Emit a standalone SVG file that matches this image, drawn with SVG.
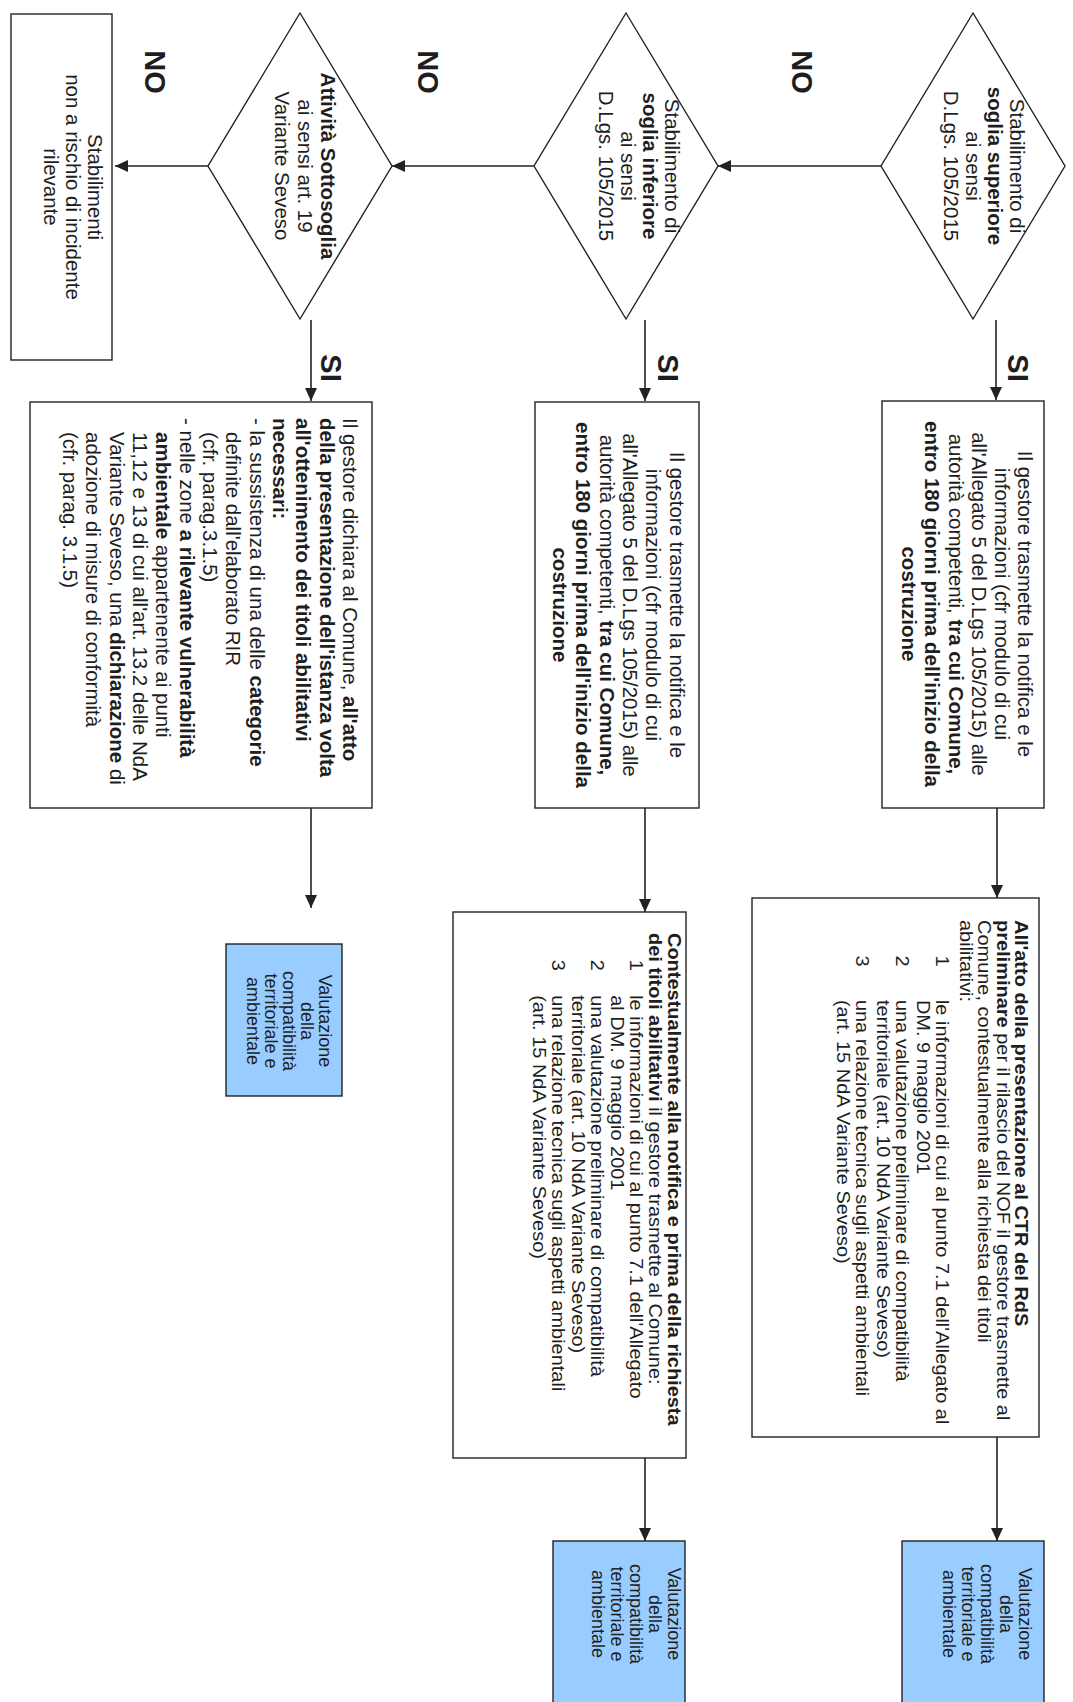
<svg xmlns="http://www.w3.org/2000/svg" width="1073" height="1702" viewBox="0 0 1073 1702">
<defs>
<style>
.t{font-family:"Liberation Sans",Arial,Helvetica,sans-serif;font-size:20.5px;fill:#1e1e1e}
.s18{font-size:18px}
.c{text-anchor:middle}
.b{font-weight:bold}
.shape{fill:#fff;stroke:#222;stroke-width:1.4}
.blue{fill:#99ccff;stroke:#222;stroke-width:1.4}
.conn line{stroke:#222;stroke-width:1.6;marker-end:url(#arr)}
.lbl{font-family:"Liberation Sans",Arial,Helvetica,sans-serif;font-size:29px;font-weight:bold;fill:#1e1e1e;text-anchor:middle}
</style>
<marker id="arr" markerUnits="userSpaceOnUse" markerWidth="14" markerHeight="12" refX="13" refY="6" orient="auto"><path d="M0,0 L13,6 L0,12 z" fill="#222"/></marker>
</defs>
<rect width="1073" height="1702" fill="#fff"/>
<g transform="translate(1073,0) rotate(90)">

<g id="conn" class="conn">
<line x1="320" y1="77" x2="400" y2="77"/>
<line x1="320" y1="428" x2="401" y2="428"/>
<line x1="320" y1="762" x2="401" y2="762"/>
<line x1="166" y1="192" x2="166" y2="355"/>
<line x1="166" y1="539" x2="166" y2="681"/>
<line x1="166" y1="865" x2="166" y2="958"/>
<line x1="808" y1="76" x2="898" y2="76"/>
<line x1="808" y1="428" x2="912" y2="428"/>
<line x1="808" y1="762" x2="908" y2="762"/>
<line x1="1437" y1="76" x2="1541" y2="76"/>
<line x1="1458" y1="428" x2="1541" y2="428"/>
</g>

<g id="labels">
<text class="lbl" x="72" y="281">NO</text>
<text class="lbl" x="72" y="655">NO</text>
<text class="lbl" x="72" y="928">NO</text>
<text class="lbl" x="368" y="65">SI</text>
<text class="lbl" x="368" y="415">SI</text>
<text class="lbl" x="368" y="752">SI</text>
</g>

<g id="d1">
<polygon class="shape" points="13,100 166,8 319,100 166,192"/>
<text class="t c"><tspan x="166" y="63">Stabilimento di</tspan><tspan x="166" y="85" class="b">soglia superiore</tspan><tspan x="166" y="107">ai sensi</tspan><tspan x="166" y="129">D.Lgs. 105/2015</tspan></text>
</g>

<g id="d2">
<polygon class="shape" points="13,447 166,355 319,447 166,539"/>
<text class="t c"><tspan x="166" y="408">Stabilimento di</tspan><tspan x="166" y="430" class="b">soglia inferiore</tspan><tspan x="166" y="452">ai sensi</tspan><tspan x="166" y="474">D.Lgs. 105/2015</tspan></text>
</g>

<g id="d3">
<polygon class="shape" points="13,773 166,681 319,773 166,865"/>
<text class="t c"><tspan x="166" y="752" class="b">Attività Sottosoglia</tspan><tspan x="166" y="775">ai sensi art. 19</tspan><tspan x="166" y="798">Variante Seveso</tspan></text>
</g>

<g id="nr">
<rect class="shape" x="14" y="961" width="346" height="101"/>
<text class="t c"><tspan x="187" y="985">Stabilimenti</tspan><tspan x="187" y="1007">non a rischio di incidente</tspan><tspan x="187" y="1029">rilevante</tspan></text>
</g>

<g id="b1">
<rect class="shape" x="401" y="29" width="407" height="162"/>
<text class="t c"><tspan x="604" y="55">Il gestore trasmette la notifica e le</tspan><tspan x="604" y="78">informazioni (cfr modulo di cui</tspan><tspan x="604" y="101">all'Allegato 5 del D.Lgs 105/2015) alle</tspan><tspan x="604" y="124">autorità competenti, <tspan class="b">tra cui Comune,</tspan></tspan><tspan x="604" y="148" class="b">entro 180 giorni prima dell'inizio della</tspan><tspan x="604" y="171" class="b">costruzione</tspan></text>
</g>

<g id="b2">
<rect class="shape" x="402" y="374" width="406" height="164"/>
<text class="t c"><tspan x="605" y="403">Il gestore trasmette la notifica e le</tspan><tspan x="605" y="427">informazioni (cfr modulo di cui</tspan><tspan x="605" y="450">all'Allegato 5 del D.Lgs 105/2015)  alle</tspan><tspan x="605" y="473">autorità competenti, <tspan class="b">tra cui Comune,</tspan></tspan><tspan x="605" y="497" class="b">entro 180 giorni prima dell'inizio della</tspan><tspan x="605" y="520" class="b">costruzione</tspan></text>
</g>

<g id="b3">
<rect class="shape" x="402" y="701" width="406" height="342"/>
<text class="t"><tspan x="418" y="730">Il gestore dichiara al Comune, <tspan class="b">all'atto</tspan></tspan><tspan x="418" y="753" class="b">della presentazione dell'istanza volta</tspan><tspan x="418" y="777" class="b">all'ottenimento dei titoli abilitativi</tspan><tspan x="418" y="800" class="b">necessari:</tspan><tspan x="418" y="823">- la sussistenza di una delle <tspan class="b">categorie</tspan></tspan><tspan x="432" y="847">definite dall'elaborato RIR</tspan><tspan x="432" y="870">(cfr. parag.3.1.5)</tspan><tspan x="418" y="893">- nelle zone <tspan class="b">a rilevante vulnerabilità</tspan></tspan><tspan x="432" y="917"><tspan class="b">ambientale</tspan> appartenente ai punti</tspan><tspan x="432" y="940">11,12 e 13 di cui all'art. 13.2 delle NdA</tspan><tspan x="432" y="963">Variante Seveso, una <tspan class="b">dichiarazione</tspan> di</tspan><tspan x="432" y="987">adozione di misure di conformità</tspan><tspan x="432" y="1010">(cfr. parag. 3.1.5)</tspan></text>
</g>

<g id="c1">
<rect class="shape" x="898" y="34" width="539" height="287"/>
<text class="t s18" transform="translate(920,0) scale(1.11,1)"><tspan x="0" y="58" class="b">All'atto della presentazione al CTR del RdS</tspan><tspan x="0" y="76"><tspan class="b">preliminare</tspan> per il rilascio del NOF il gestore trasmette al</tspan><tspan x="0" y="95">Comune,  contestualmente alla richiesta dei titoli</tspan><tspan x="0" y="113">abilitativi:</tspan><tspan x="32" y="137">1</tspan><tspan x="72" y="137">le informazioni di cui al punto 7.1 dell'Allegato al</tspan><tspan x="72" y="156">DM. 9 maggio 2001</tspan><tspan x="32" y="177">2</tspan><tspan x="72" y="177">una valutazione preliminare di compatibilità</tspan><tspan x="72" y="196">territoriale (art. 10 NdA Variante Seveso)</tspan><tspan x="32" y="217">3</tspan><tspan x="72" y="217">una relazione tecnica sugli aspetti ambientali</tspan><tspan x="72" y="236">(art. 15 NdA Variante Seveso)</tspan></text>
</g>

<g id="c2">
<rect class="shape" x="912" y="387" width="546" height="233"/>
<text class="t s18" transform="translate(933,0) scale(1.11,1)"><tspan x="0" y="405" class="b">Contestualmente alla notifica e prima della richiesta</tspan><tspan x="0" y="424"><tspan class="b">dei titoli abilitativi</tspan> il gestore trasmette al Comune:</tspan><tspan x="24" y="443">1</tspan><tspan x="56" y="443">le informazioni di cui al punto 7.1 dell'Allegato</tspan><tspan x="56" y="462">al DM. 9 maggio 2001</tspan><tspan x="24" y="482">2</tspan><tspan x="56" y="482">una valutazione preliminare di compatibilità</tspan><tspan x="56" y="501">territoriale (art. 10 NdA Variante Seveso)</tspan><tspan x="24" y="521">3</tspan><tspan x="56" y="521">una relazione tecnica sugli aspetti ambientali</tspan><tspan x="56" y="540">(art. 15 NdA Variante Seveso)</tspan></text>
</g>

<g id="v1">
<rect class="blue" x="1541" y="29" width="170" height="142"/>
<text class="t s18 c"><tspan x="1614" y="54">Valutazione</tspan><tspan x="1614" y="73">della</tspan><tspan x="1614" y="92">compatibilità</tspan><tspan x="1614" y="111">territoriale e</tspan><tspan x="1614" y="130">ambientale</tspan></text>
</g>

<g id="v2">
<rect class="blue" x="1541" y="388" width="170" height="132"/>
<text class="t s18 c"><tspan x="1614" y="405">Valutazione</tspan><tspan x="1614" y="424">della</tspan><tspan x="1614" y="443">compatibilità</tspan><tspan x="1614" y="462">territoriale e</tspan><tspan x="1614" y="481">ambientale</tspan></text>
</g>

<g id="v3">
<rect class="blue" x="944" y="731" width="152" height="116"/>
<text class="t s18 c"><tspan x="1021" y="754">Valutazione</tspan><tspan x="1021" y="772">della</tspan><tspan x="1021" y="790">compatibilità</tspan><tspan x="1021" y="808">territoriale e</tspan><tspan x="1021" y="826">ambientale</tspan></text>
</g>

</g>
</svg>
